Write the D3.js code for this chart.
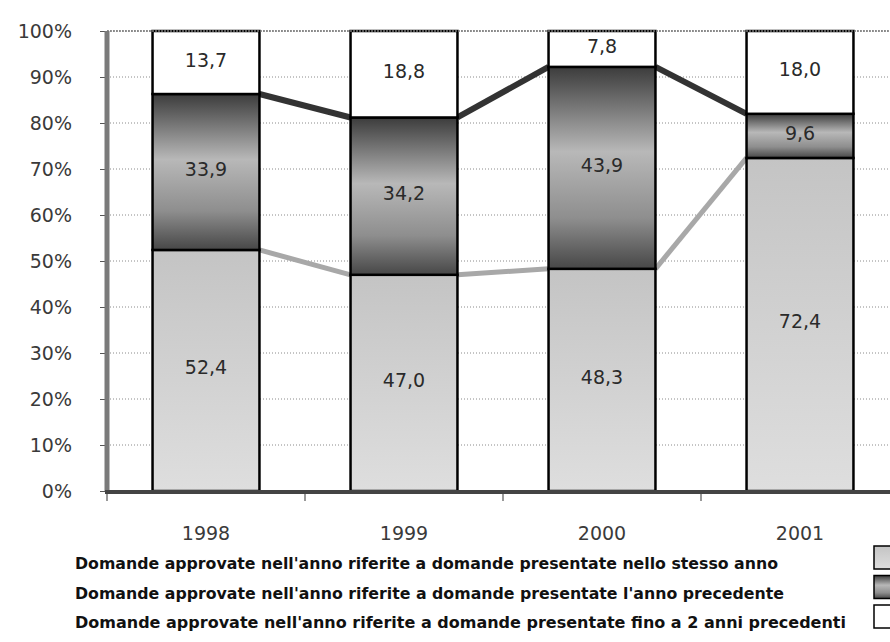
<!DOCTYPE html>
<html>
<head>
<meta charset="utf-8">
<script src="https://cdn.jsdelivr.net/npm/d3@7"></script>
<style>
  body { margin: 0; background: #fff; }
  svg { display: block; }
</style>
</head>
<body>
<script>
// data (percent of approved requests per year)
var years = ["1998", "1999", "2000", "2001"];
var stessoAnno = [52.4, 47.0, 48.3, 72.4];      // same year
var annoPrecedente = [33.9, 34.2, 43.9, 9.6];   // previous year
var dueAnni = [13.7, 18.8, 7.8, 18.0];          // up to 2 years before
var seriesKeys = ["stesso", "prec", "due"];
var legendLabels = [
  "Domande approvate nell'anno riferite a domande presentate nello stesso anno",
  "Domande approvate nell'anno riferite a domande presentate l'anno precedente",
  "Domande approvate nell'anno riferite a domande presentate fino a 2 anni precedenti"
];
var yTickValues = [0, 10, 20, 30, 40, 50, 60, 70, 80, 90, 100];

var width = 890, height = 642;
var plot = {left: 107, right: 899, top: 31, bottom: 491};

var rows = years.map(function(y, i) {
  return {year: y, stesso: stessoAnno[i], prec: annoPrecedente[i], due: dueAnni[i]};
});

var svg = d3.select("body").append("svg")
    .attr("width", width)
    .attr("height", height);

var defs = svg.append("defs");
var gDark = defs.append("linearGradient").attr("id", "gDark")
    .attr("x1", 0).attr("y1", 0).attr("x2", 0).attr("y2", 1);
gDark.append("stop").attr("offset", "0%").attr("stop-color", "#3c3c3c");
gDark.append("stop").attr("offset", "42%").attr("stop-color", "#b8b8b8");
gDark.append("stop").attr("offset", "75%").attr("stop-color", "#8e8e8e");
gDark.append("stop").attr("offset", "100%").attr("stop-color", "#474747");

var gLight = defs.append("linearGradient").attr("id", "gLight")
    .attr("x1", 0).attr("y1", 0).attr("x2", 0).attr("y2", 1);
gLight.append("stop").attr("offset", "0%").attr("stop-color", "#c4c4c4");
gLight.append("stop").attr("offset", "100%").attr("stop-color", "#dedede");

var fills = {stesso: "url(#gLight)", prec: "url(#gDark)", due: "#ffffff"};

var x = d3.scaleBand()
    .domain(years)
    .range([plot.left, plot.right])
    .paddingInner(0.46)
    .paddingOuter(0.23);

var y = d3.scaleLinear()
    .domain([0, 100])
    .range([plot.bottom, plot.top]);

var stacked = d3.stack().keys(seriesKeys)(rows);

// gridlines
svg.append("g").selectAll("line")
    .data(yTickValues.filter(function(d) { return d > 0; }))
  .enter().append("line")
    .attr("x1", plot.left).attr("x2", width)
    .attr("y1", function(d) { return y(d); })
    .attr("y2", function(d) { return y(d); })
    .style("stroke", "#8a8a8a")
    .style("stroke-width", 1)
    .style("stroke-dasharray", "1,2");

// y axis ticks + labels
var yAxis = d3.axisLeft(y)
    .tickValues(yTickValues)
    .tickSize(7)
    .tickPadding(30)
    .tickFormat(function(d) { return d + "%"; });
var ya = svg.append("g")
    .attr("transform", "translate(" + plot.left + ",0)")
    .call(yAxis);
ya.select(".domain").remove();
ya.selectAll("line").style("stroke", "#555");
ya.selectAll("text")
    .attr("x", -35)
    .style("font-family", "'DejaVu Sans', sans-serif")
    .style("font-size", "19px")
    .style("fill", "#3a3a3a");

// connector lines between bars
function connector(level, color, w) {
  var pts = [];
  rows.forEach(function(r, i) {
    var v = stacked[level][i][1];
    pts.push([x(r.year), y(v)]);
    pts.push([x(r.year) + x.bandwidth(), y(v)]);
  });
  for (var i = 1; i < pts.length - 2; i += 2) {
    svg.append("line")
        .attr("x1", pts[i][0]).attr("y1", pts[i][1])
        .attr("x2", pts[i + 1][0]).attr("y2", pts[i + 1][1])
        .style("stroke", color)
        .style("stroke-width", w);
  }
}
connector(0, "#a8a8a8", 5);
connector(1, "#333", 6);

// bars
var layer = svg.append("g").selectAll("g")
    .data(stacked)
  .enter().append("g");

layer.selectAll("rect")
    .data(function(d) { return d.map(function(p) { p.key = d.key; return p; }); })
  .enter().append("rect")
    .attr("x", function(d) { return x(d.data.year); })
    .attr("y", function(d) { return y(d[1]); })
    .attr("width", x.bandwidth())
    .attr("height", function(d) { return y(d[0]) - y(d[1]); })
    .style("fill", function(d) { return fills[d.key]; })
    .style("stroke", "#000")
    .style("stroke-width", 2.5);

// value labels
layer.selectAll("text")
    .data(function(d) { return d; })
  .enter().append("text")
    .attr("x", function(d) { return x(d.data.year) + x.bandwidth() / 2; })
    .attr("y", function(d) { return (y(d[0]) + y(d[1])) / 2 - 3; })
    .attr("text-anchor", "middle")
    .attr("dominant-baseline", "central")
    .style("font-family", "'DejaVu Sans', sans-serif")
    .style("font-size", "19px")
    .style("fill", "#2a2a2a")
    .text(function(d) { return d3.format(".1f")(d[1] - d[0]).replace(".", ","); });

// axes lines
svg.append("line")
    .attr("x1", plot.left).attr("x2", plot.left)
    .attr("y1", plot.top).attr("y2", plot.bottom)
    .style("stroke", "#7a7a7a").style("stroke-width", 5);
svg.append("line")
    .attr("x1", plot.left - 2).attr("x2", width)
    .attr("y1", plot.bottom + 1).attr("y2", plot.bottom + 1)
    .style("stroke", "#444").style("stroke-width", 4);
svg.append("line")
    .attr("x1", plot.left).attr("x2", width)
    .attr("y1", plot.top).attr("y2", plot.top)
    .style("stroke", "#777").style("stroke-width", 1.5)
    .style("stroke-dasharray", "2,1");

// x ticks at category boundaries
var step = x.step();
svg.append("g").selectAll("line")
    .data(years)
  .enter().append("line")
    .attr("x1", function(d) { return x(d) - step * 0.23; })
    .attr("x2", function(d) { return x(d) - step * 0.23; })
    .attr("y1", plot.bottom + 3).attr("y2", plot.bottom + 10)
    .style("stroke", "#555").style("stroke-width", 1.2);

// year labels
svg.append("g").selectAll("text")
    .data(years)
  .enter().append("text")
    .attr("x", function(d) { return x(d) + x.bandwidth() / 2; })
    .attr("y", 540)
    .attr("text-anchor", "middle")
    .style("font-family", "'DejaVu Sans', sans-serif")
    .style("font-size", "19px")
    .style("fill", "#3a3a3a")
    .text(function(d) { return d; });

// legend
var legendWidths = [703, 709, 771];
var legend = svg.append("g").selectAll("g")
    .data(legendLabels)
  .enter().append("g")
    .attr("transform", function(d, i) { return "translate(0," + (i * 29.5) + ")"; });

legend.append("text")
    .attr("x", 75)
    .attr("y", 569)
    .attr("textLength", function(d, i) { return legendWidths[i]; })
    .attr("lengthAdjust", "spacingAndGlyphs")
    .style("font-family", "'DejaVu Sans', sans-serif")
    .style("font-weight", "bold")
    .style("font-size", "15px")
    .style("fill", "#111")
    .text(function(d) { return d; });

legend.append("rect")
    .attr("x", 874)
    .attr("y", 546)
    .attr("width", 30)
    .attr("height", 23)
    .style("fill", function(d, i) { return fills[seriesKeys[i]]; })
    .style("stroke", "#000")
    .style("stroke-width", 1.5);
</script>
</body>
</html>
